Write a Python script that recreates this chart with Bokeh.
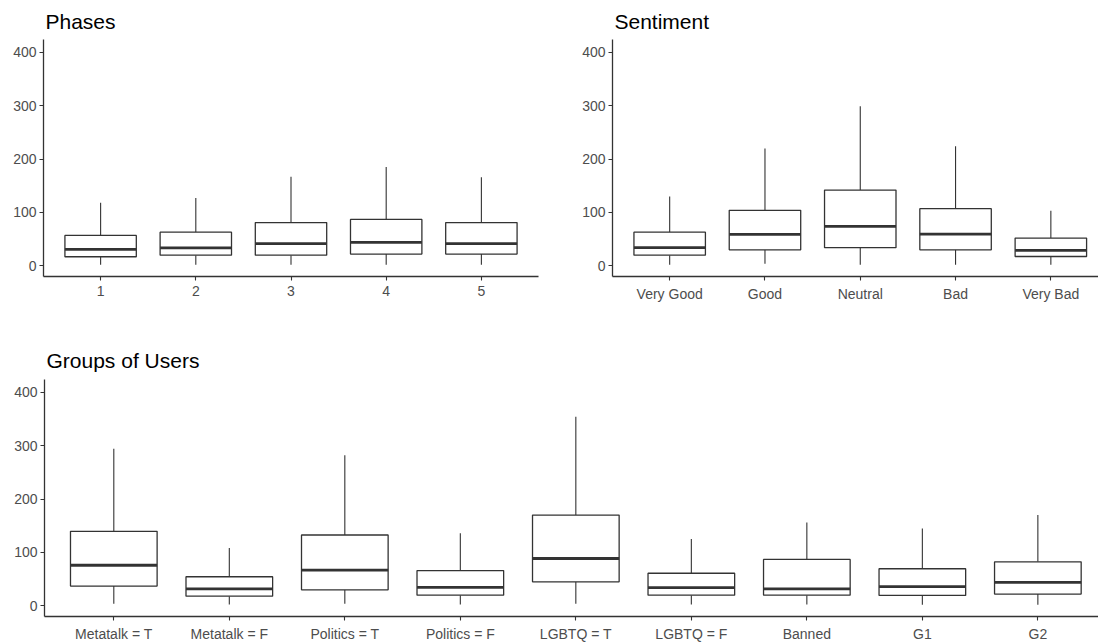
from bokeh.plotting import figure
from bokeh.layouts import column, row
from bokeh.models import ColumnDataSource, FixedTicker, Range1d
from bokeh.embed import file_html
from bokeh.resources import INLINE

# ---------------- data ----------------
phase_labels = ["1", "2", "3", "4", "5"]
phase_low = [2, 2, 2, 2, 2]
phase_q1 = [17, 20, 20, 22, 22]
phase_med = [31, 33.5, 41.5, 44, 41.5]
phase_q3 = [57, 63, 81, 87, 81]
phase_high = [118, 127, 167, 185, 166]

sent_labels = ["Very Good", "Good", "Neutral", "Bad", "Very Bad"]
sent_low = [2, 4, 2, 2, 2]
sent_q1 = [20, 30, 34, 30, 17.5]
sent_med = [34, 59, 74, 59.5, 29]
sent_q3 = [63, 104, 142, 107, 52]
sent_high = [130, 220, 299, 224, 103]

group_labels = ["Metatalk = T", "Metatalk = F", "Politics = T", "Politics = F",
                "LGBTQ = T", "LGBTQ = F", "Banned", "G1", "G2"]
group_low = [4, 2.5, 4, 2.5, 4, 2.5, 2.5, 2, 2]
group_q1 = [37, 18, 30, 20, 45, 20, 20, 19.5, 22]
group_med = [76, 31.6, 67, 34.7, 88.7, 34, 31.6, 36, 44]
group_q3 = [139.5, 54.5, 132.7, 66, 170, 61, 87, 69.5, 82.5]
group_high = [294.5, 108.5, 282, 136, 354, 125, 156, 145, 170]

Y_TICKS = [0, 100, 200, 300, 400]
BOX_W = 0.75
LINE = "#333333"
TICK_LABEL = "#4D4D4D"
FONT = "Liberation Sans"


def make_panel(title, labels, low, q1, med, q3, high, width, height,
               x_end, mb_left, mb_right, mb_top, mb_bottom, t_valign, t_standoff):
    pos = list(range(1, len(labels) + 1))
    src = ColumnDataSource(dict(
        x=pos, low=low, q1=q1, med=med, q3=q3, high=high,
        x0=[v - BOX_W / 2 for v in pos], x1=[v + BOX_W / 2 for v in pos],
    ))
    p = figure(width=width, height=height, output_backend="svg",
               toolbar_location=None, tools="",
               x_range=Range1d(0.4, x_end), y_range=Range1d(-20, 424),
               min_border_left=mb_left, min_border_right=mb_right,
               min_border_top=mb_top, min_border_bottom=mb_bottom)
    p.title.text = title
    p.title.text_font = FONT
    p.title.text_font_size = "21px"
    p.title.text_font_style = "normal"
    p.title.text_color = "black"
    p.title.align = "left"
    p.title.vertical_align = t_valign
    p.title.offset = 2
    p.title.standoff = t_standoff

    p.segment("x", "low", "x", "q1", source=src, line_color=LINE, line_width=1.1)
    p.segment("x", "q3", "x", "high", source=src, line_color=LINE, line_width=1.1)
    p.vbar(x="x", width=BOX_W, bottom="q1", top="q3", source=src,
           fill_color="white", line_color=LINE, line_width=1.3)
    p.segment("x0", "med", "x1", "med", source=src, line_color=LINE, line_width=2.8)

    p.xgrid.visible = False
    p.ygrid.visible = False
    p.outline_line_color = None
    p.background_fill_color = "white"
    p.border_fill_color = "white"

    for ax in (p.xaxis[0], p.yaxis[0]):
        ax.axis_line_color = LINE
        ax.axis_line_width = 1.3
        ax.major_tick_line_color = LINE
        ax.major_tick_line_width = 1.1
        ax.major_tick_in = 0
        ax.major_tick_out = 4
        ax.minor_tick_line_color = None
        ax.major_label_text_font = FONT
        ax.major_label_text_font_size = "14px"
        ax.major_label_text_color = TICK_LABEL
    p.xaxis.major_label_standoff = 5
    p.yaxis.major_label_standoff = 3
    p.xaxis.ticker = FixedTicker(ticks=pos)
    p.xaxis.major_label_overrides = {i: lab for i, lab in zip(pos, labels)}
    p.yaxis.ticker = FixedTicker(ticks=Y_TICKS)
    return p


p1 = make_panel("Phases", phase_labels, phase_low, phase_q1, phase_med, phase_q3, phase_high,
                width=575, height=330, x_end=5.6,
                mb_left=43, mb_right=37, mb_top=39, mb_bottom=54,
                t_valign="top", t_standoff=10)
p2 = make_panel("Sentiment", sent_labels, sent_low, sent_q1, sent_med, sent_q3, sent_high,
                width=523, height=330, x_end=5.5,
                mb_left=37, mb_right=0, mb_top=39, mb_bottom=54,
                t_valign="top", t_standoff=10)
p3 = make_panel("Groups of Users", group_labels, group_low, group_q1, group_med, group_q3, group_high,
                width=1098, height=314, x_end=9.525,
                mb_left=44, mb_right=0, mb_top=49, mb_bottom=28,
                t_valign="middle", t_standoff=14)

layout = column(row(p1, p2), p3)
open("out.html", "w").write(file_html(layout, INLINE))
